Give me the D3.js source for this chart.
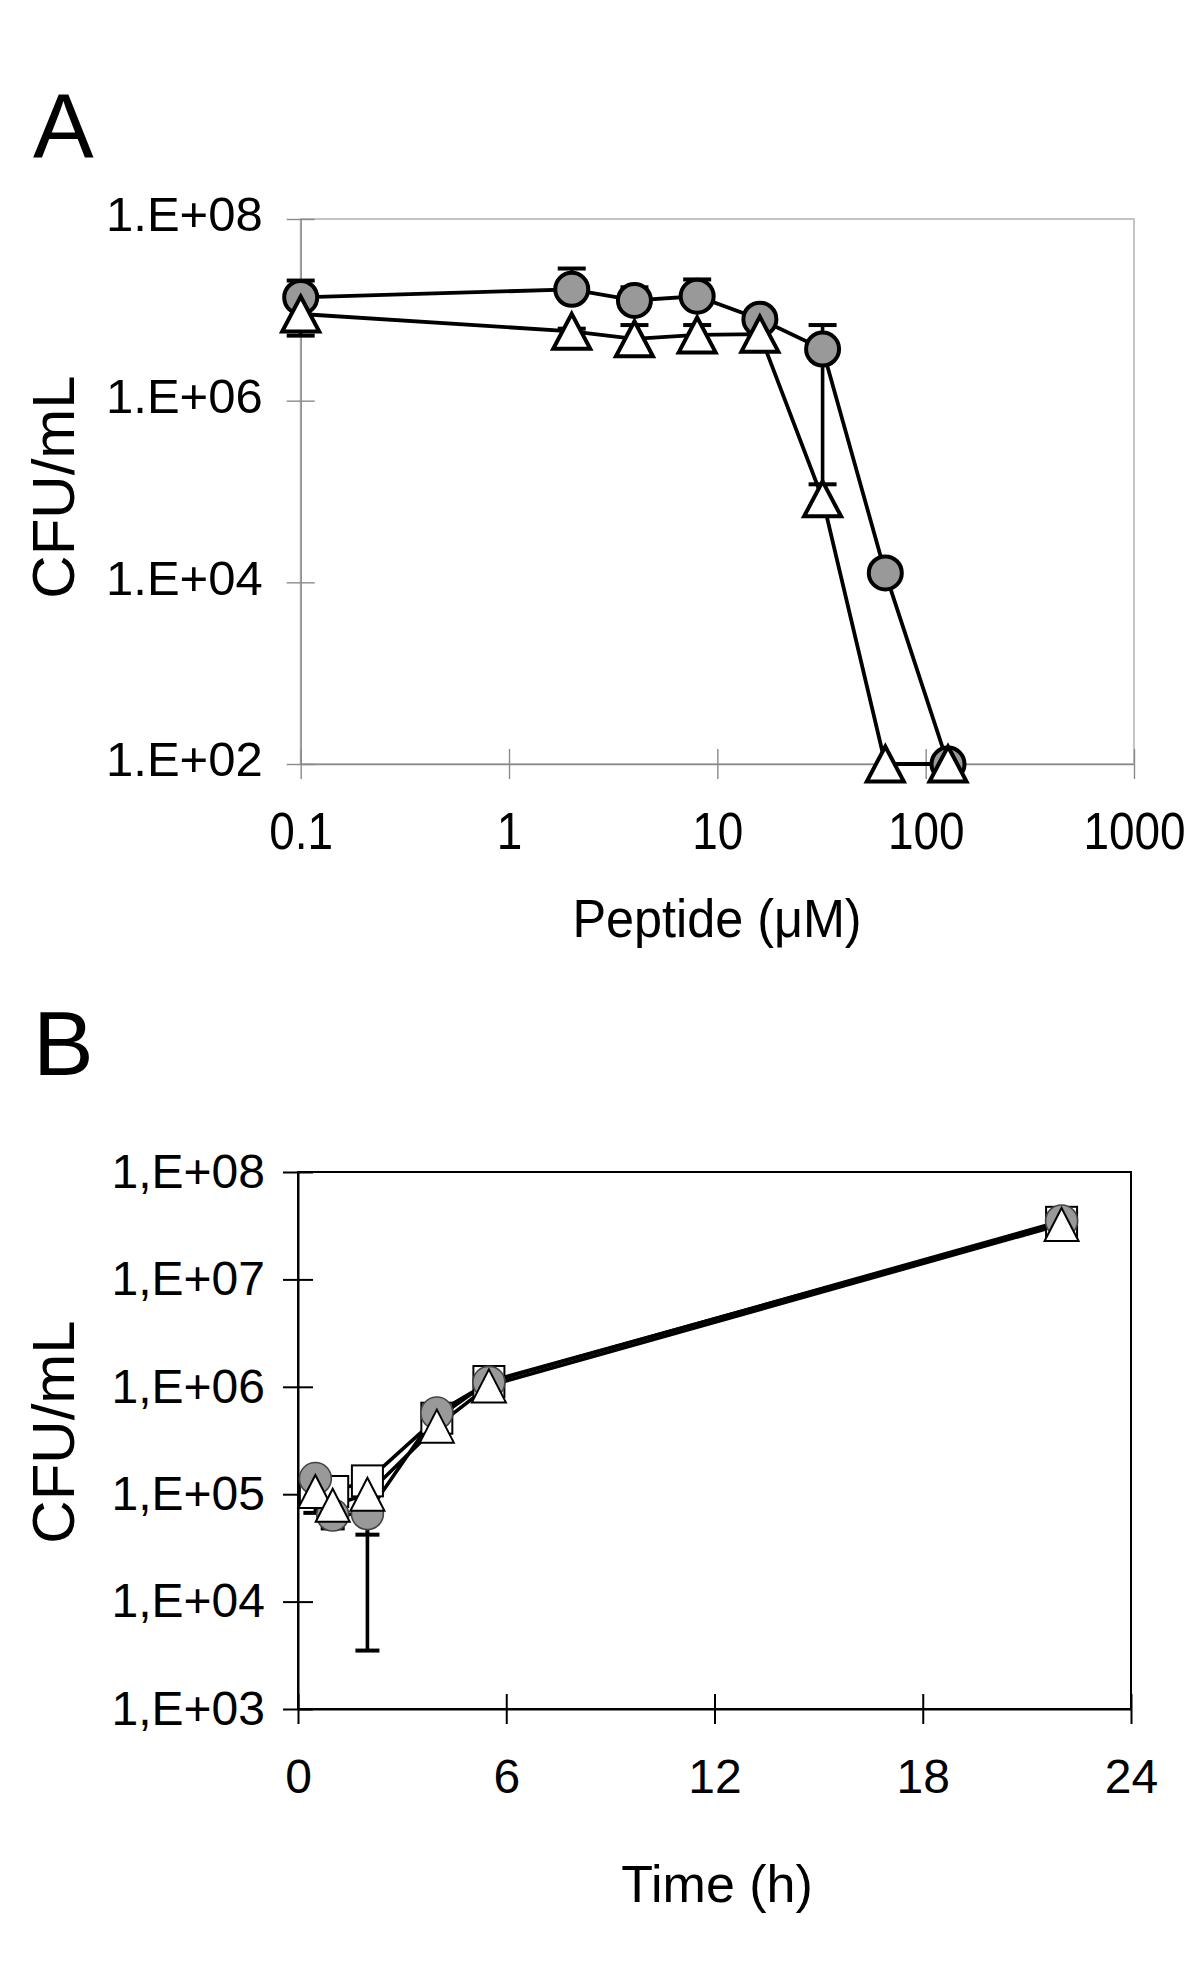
<!DOCTYPE html>
<html><head><meta charset="utf-8">
<script src="https://cdn.jsdelivr.net/npm/d3@7"></script>
<style>
body{margin:0;background:#fff}
svg{display:block}
text{font-family:"Liberation Sans",Arial,Helvetica,sans-serif;fill:#000}
</style>
</head><body>
<svg id="chart" width="1200" height="1961"></svg>
<script>
// ---------- Panel A data ----------
const concA      = [0.1, 2, 4, 8, 16, 32, 64, 128];
const circleA    = [1.37e7, 1.68e7, 1.27e7, 1.41e7, 7.9e6, 3.7e6, 1.27e4, 100];
const circleAHi  = [2.1e7, 2.85e7, 1.77e7, 2.16e7, null, 6.8e6, null, null];
const circleALo  = [null, null, null, null, null, 1.2e5, null, null];
const triA       = [9.0e6, 5.8e6, 4.8e6, 5.3e6, 5.4e6, 8.3e4, 100, 100];
const triAHi     = [null, 6.2e6, 6.8e6, 6.8e6, null, null, null, null];
const triALo     = [5.2e6, null, null, null, null, null, null, null];
const yTicksA      = [1e8, 1e6, 1e4, 1e2];
const yTickLabelsA = ["1.E+08", "1.E+06", "1.E+04", "1.E+02"];
const xTicksA      = [0.1, 1, 10, 100, 1000];
const xTickLabelsA = ["0.1", "1", "10", "100", "1000"];

// ---------- Panel B data ----------
const timeB      = [0.5, 1, 2, 4, 5.5, 22];
const circleB    = [1.4e5, 6.4e4, 6.6e4, 5.7e5, 1.1e6, 3.5e7];
const circleBLo  = [6.7e4, 4.8e4, 3.5e3, null, null, null];
const squareB    = [1.05e5, 1.06e5, 1.33e5, 5.1e5, 1.12e6, 3.4e7];
const triB       = [1.06e5, 7.9e4, 1.0e5, 4.3e5, 1.02e6, 3.25e7];
const triBLo     = [null, null, 4.2e4, null, null, null];
const yTicksB      = [1e8, 1e7, 1e6, 1e5, 1e4, 1e3];
const yTickLabelsB = ["1,E+08", "1,E+07", "1,E+06", "1,E+05", "1,E+04", "1,E+03"];
const xTicksB      = [0, 6, 12, 18, 24];
const xTickLabelsB = ["0", "6", "12", "18", "24"];

const GRAY = "#999999";
const svg = d3.select("#chart");

function triPath(w, h) {
  return `M0,${-h/2}L${w/2},${h/2}L${-w/2},${h/2}Z`;
}

function crossTicks(g, orient, len) {
  g.selectAll(".tick line").each(function() {
    const l = d3.select(this);
    if (orient === "left") l.attr("x1", len).attr("x2", -len);
    else l.attr("y1", -len).attr("y2", len);
  });
}

// squeeze text horizontally to a given fraction of natural width
function squeeze(sel, f) {
  sel.each(function() {
    const w = this.getComputedTextLength();
    d3.select(this).attr("textLength", w * f).attr("lengthAdjust", "spacingAndGlyphs");
  });
}

// ================= Panel A =================
{
  const L = 300.7, R = 1134, T = 219, B = 764;
  const x = d3.scaleLog().domain([0.1, 1000]).range([L, R]);
  const y = d3.scaleLog().domain([100, 1e8]).range([B, T]);
  const g = svg.append("g");

  g.append("rect").attr("x", L).attr("y", T).attr("width", R - L).attr("height", B - T)
    .attr("fill", "none").attr("stroke", "#c4c4c4").attr("stroke-width", 2);

  const yAx = g.append("g").attr("transform", `translate(${L},0)`)
    .call(d3.axisLeft(y).tickValues(yTicksA).tickFormat((d, i) => yTickLabelsA[i])
      .tickSize(14).tickSizeOuter(0).tickPadding(24));
  crossTicks(yAx, "left", 14);
  const xAx = g.append("g").attr("transform", `translate(0,${B})`)
    .call(d3.axisBottom(x).tickValues(xTicksA).tickFormat((d, i) => xTickLabelsA[i])
      .tickSize(15).tickSizeOuter(0).tickPadding(34));
  crossTicks(xAx, "bottom", 15);
  [yAx, xAx].forEach(a => {
    a.selectAll("path.domain").attr("stroke", "#8a8a8a").attr("stroke-width", 1.4);
    a.selectAll(".tick line").attr("stroke", "#8a8a8a").attr("stroke-width", 1.4);
    a.selectAll("text").attr("font-family", null).style("fill", "#000");
  });
  yAx.selectAll("text").attr("font-size", 49).attr("dy", "0.24em");
  xAx.selectAll("text").attr("font-size", 51);
  squeeze(xAx.selectAll("text"), 0.9);

  const xt = g.append("text").attr("x", 717).attr("y", 937).attr("text-anchor", "middle")
    .attr("font-size", 53).text("Peptide (\u03BCM)");
  squeeze(xt, 0.95);
  g.append("text").attr("transform", `translate(74,487) rotate(-90)`).attr("text-anchor", "middle")
    .attr("font-size", 60).text("CFU/mL");
  g.append("text").attr("x", 33).attr("y", 157).attr("font-size", 91).text("A");

  const line = d3.line().x(d => x(d[0])).y(d => y(d[1]));
  const circPts = concA.map((c, i) => [c, circleA[i]]);
  const triPts = concA.map((c, i) => [c, triA[i]]);
  g.append("path").attr("d", line(circPts)).attr("fill", "none").attr("stroke", "#000").attr("stroke-width", 3.8);
  g.append("path").attr("d", line(triPts)).attr("fill", "none").attr("stroke", "#000").attr("stroke-width", 3.8);

  function errBars(vals, ends) {
    concA.forEach((c, i) => {
      if (ends[i] == null) return;
      const cx = x(c), y0 = y(vals[i]), y1 = y(ends[i]);
      g.append("line").attr("x1", cx).attr("x2", cx).attr("y1", y0).attr("y2", y1)
        .attr("stroke", "#000").attr("stroke-width", 3.6);
      g.append("line").attr("x1", cx - 14).attr("x2", cx + 14).attr("y1", y1).attr("y2", y1)
        .attr("stroke", "#000").attr("stroke-width", 4);
    });
  }
  errBars(circleA, circleAHi); errBars(circleA, circleALo);
  errBars(triA, triAHi); errBars(triA, triALo);

  g.selectAll("circle.ca").data(circPts).enter().append("circle")
    .attr("cx", d => x(d[0])).attr("cy", d => y(d[1])).attr("r", 16.5)
    .attr("fill", GRAY).attr("stroke", "#000").attr("stroke-width", 4);
  g.selectAll("path.ta").data(triPts).enter().append("path")
    .attr("transform", d => `translate(${x(d[0])},${y(d[1])})`)
    .attr("d", triPath(37, 35)).attr("fill", "#fff").attr("stroke", "#000")
    .attr("stroke-width", 4).attr("stroke-linejoin", "miter");
}

// ================= Panel B =================
{
  const L = 298, R = 1131, T = 1172, B = 1709;
  const x = d3.scaleLinear().domain([0, 24]).range([L, R]);
  const y = d3.scaleLog().domain([1e3, 1e8]).range([B, T]);
  const g = svg.append("g");

  g.append("rect").attr("x", L).attr("y", T).attr("width", R - L).attr("height", B - T)
    .attr("fill", "none").attr("stroke", "#000").attr("stroke-width", 2);

  const yAx = g.append("g").attr("transform", `translate(${L},0)`)
    .call(d3.axisLeft(y).tickValues(yTicksB).tickFormat((d, i) => yTickLabelsB[i])
      .tickSize(15).tickSizeOuter(0).tickPadding(18));
  crossTicks(yAx, "left", 15);
  const xAx = g.append("g").attr("transform", `translate(0,${B})`)
    .call(d3.axisBottom(x).tickValues(xTicksB).tickFormat((d, i) => xTickLabelsB[i])
      .tickSize(15).tickSizeOuter(0).tickPadding(35));
  crossTicks(xAx, "bottom", 15);
  [yAx, xAx].forEach(a => {
    a.selectAll("path.domain").attr("stroke", "#000").attr("stroke-width", 2);
    a.selectAll(".tick line").attr("stroke", "#000").attr("stroke-width", 2);
    a.selectAll("text").attr("font-size", 48).attr("font-family", null).style("fill", "#000");
  });

  g.append("text").attr("x", 717).attr("y", 1902).attr("text-anchor", "middle")
    .attr("font-size", 52).text("Time (h)");
  g.append("text").attr("transform", `translate(74,1432) rotate(-90)`).attr("text-anchor", "middle")
    .attr("font-size", 60).text("CFU/mL");
  g.append("text").attr("x", 33).attr("y", 1075).attr("font-size", 91).text("B");

  const line = d3.line().x(d => x(d[0])).y(d => y(d[1]));
  const cP = timeB.map((t, i) => [t, circleB[i]]);
  const sP = timeB.map((t, i) => [t, squareB[i]]);
  const tP = timeB.map((t, i) => [t, triB[i]]);
  [cP, sP, tP].forEach(p => g.append("path").attr("d", line(p)).attr("fill", "none")
    .attr("stroke", "#000").attr("stroke-width", 3.6));

  function errBars(vals, ends) {
    timeB.forEach((t, i) => {
      if (ends[i] == null) return;
      const cx = x(t), y0 = y(vals[i]), y1 = y(ends[i]);
      g.append("line").attr("x1", cx).attr("x2", cx).attr("y1", y0).attr("y2", y1)
        .attr("stroke", "#000").attr("stroke-width", 3.6);
      g.append("line").attr("x1", cx - 12).attr("x2", cx + 12).attr("y1", y1).attr("y2", y1)
        .attr("stroke", "#000").attr("stroke-width", 4);
    });
  }
  errBars(circleB, circleBLo); errBars(triB, triBLo);

  g.selectAll("rect.sb").data(sP).enter().append("rect")
    .attr("x", d => x(d[0]) - 15.5).attr("y", d => y(d[1]) - 15.5)
    .attr("width", 31).attr("height", 31)
    .attr("fill", "#fff").attr("stroke", "#000").attr("stroke-width", 2);
  g.selectAll("circle.cb").data(cP).enter().append("circle")
    .attr("cx", d => x(d[0])).attr("cy", d => y(d[1])).attr("r", 16)
    .attr("fill", GRAY).attr("stroke", "#444").attr("stroke-width", 1.6);
  g.selectAll("path.tb").data(tP).enter().append("path")
    .attr("transform", d => `translate(${x(d[0])},${y(d[1])})`)
    .attr("d", triPath(34, 33)).attr("fill", "#fff").attr("stroke", "#000")
    .attr("stroke-width", 2);
}
</script>
</body></html>
